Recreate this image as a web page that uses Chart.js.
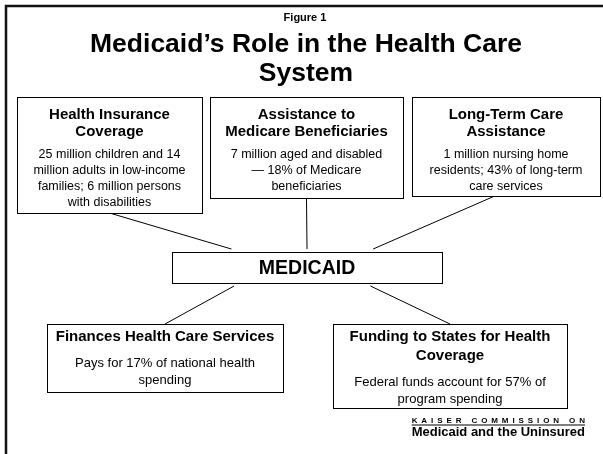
<!DOCTYPE html>
<html><head><meta charset="utf-8">
<script src="https://cdn.jsdelivr.net/npm/chart.js@4.4.0/dist/chart.umd.min.js"></script>
<style>html,body{margin:0;padding:0;background:#fff;}#wrap{position:relative;width:603px;height:454px;}canvas{display:block;}</style>
</head><body><div id="wrap"><canvas id="c" width="603" height="454"></canvas></div>
<script>
// ---------- content ----------
const figureLabel = 'Figure 1';
const titleLines = ['Medicaid’s Role in the Health Care', 'System'];
const boxHeadings = [
  ['Health Insurance', 'Coverage'],
  ['Assistance to', 'Medicare Beneficiaries'],
  ['Long-Term Care', 'Assistance'],
  ['MEDICAID'],
  ['Finances Health Care Services'],
  ['Funding to States for Health', 'Coverage']
];
const boxBodies = [
  ['25 million children and 14', 'million adults in low-income', 'families; 6 million persons', 'with disabilities'],
  ['7 million aged and disabled', '— 18% of Medicare', 'beneficiaries'],
  ['1 million nursing home', 'residents; 43% of long-term', 'care services'],
  [],
  ['Pays for 17% of national health', 'spending'],
  ['Federal funds account for 57% of', 'program spending']
];
const links = [[0, 3], [1, 3], [2, 3], [3, 4], [3, 5]];
const footerLines = ['KAISER COMMISSION ON', 'Medicaid and the Uninsured'];

// ---------- layout (page units) ----------
const FONT = '"Liberation Sans", Arial, Helvetica, sans-serif';
const boxRects = [
  [17, 97, 202, 213],
  [210, 97, 403, 198],
  [412, 97, 600, 196],
  [172, 252, 442, 283],
  [47, 324, 283, 392],
  [333, 324, 567, 408]
];
const boxText = [
  {pad: 18, headLH: 17, gap: 23, bodyLH: 15.7, hs: 15, bs: 12.5},
  {pad: 18, headLH: 17, gap: 23, bodyLH: 15.7, hs: 15, bs: 12.5},
  {pad: 18, headLH: 17, gap: 23, bodyLH: 15.7, hs: 15, bs: 12.5},
  {center: true, hs: 19.5},
  {pad: 13, headLH: 18, gap: 26, bodyLH: 17, hs: 15, bs: 13},
  {pad: 13, headLH: 19, gap: 26, bodyLH: 17, hs: 15, bs: 13}
];
// fraction along source box edge, fraction along target box edge
const linkAnchors = [[0.5, 0.22], [0.5, 0.5], [0.44, 0.745], [0.23, 0.5], [0.735, 0.5]];
const linkGap = 3;

// ---------- build connector datasets ----------
const datasets = links.map((lk, i) => {
  const [a, b] = lk;
  const ra = boxRects[a], rb = boxRects[b];
  const [fa, fb] = linkAnchors[i];
  let p1, p2;
  if (a === 3) { // from MEDICAID down
    p1 = {x: ra[0] + fa * (ra[2] - ra[0]), y: ra[3] + linkGap};
    p2 = {x: rb[0] + fb * (rb[2] - rb[0]), y: rb[1]};
  } else {
    p1 = {x: ra[0] + fa * (ra[2] - ra[0]), y: ra[3]};
    p2 = {x: rb[0] + fb * (rb[2] - rb[0]), y: rb[1] - linkGap};
  }
  return {type: 'line', data: [p1, p2], borderColor: '#000', borderWidth: 1, pointRadius: 0, fill: false, tension: 0};
});

const diagramPlugin = {
  id: 'diagram',
  beforeDatasetsDraw(chart) {
    const ctx = chart.ctx;
    const X = v => chart.scales.x.getPixelForValue(v);
    const Y = v => chart.scales.y.getPixelForValue(v);
    ctx.save();
    // outer frame (top and left edges visible)
    ctx.strokeStyle = '#111';
    ctx.lineWidth = 2.5;
    ctx.beginPath();
    ctx.moveTo(X(6), Y(454));
    ctx.lineTo(X(6), Y(6));
    ctx.lineTo(X(603), Y(6));
    ctx.stroke();
    // titles
    ctx.fillStyle = '#000';
    ctx.textAlign = 'center';
    ctx.textBaseline = 'middle';
    ctx.font = 'bold 11px ' + FONT;
    ctx.fillText(figureLabel, X(305), Y(18));
    ctx.font = 'bold 26.5px ' + FONT;
    titleLines.forEach((t, i) => ctx.fillText(t, X(306), Y(45 + i * 29)));
    ctx.restore();
  },
  afterDatasetsDraw(chart) {
    const ctx = chart.ctx;
    const X = v => chart.scales.x.getPixelForValue(v);
    const Y = v => chart.scales.y.getPixelForValue(v);
    ctx.save();
    boxRects.forEach((r, i) => {
      const x0 = Math.round(X(r[0])) + 0.5, y0 = Math.round(Y(r[1])) + 0.5;
      const x1 = Math.round(X(r[2])) + 0.5, y1 = Math.round(Y(r[3])) + 0.5;
      ctx.fillStyle = '#fff';
      ctx.fillRect(x0, y0, x1 - x0, y1 - y0);
      ctx.strokeStyle = '#000';
      ctx.lineWidth = 1;
      ctx.strokeRect(x0, y0, x1 - x0, y1 - y0);
      const cx = (X(r[0]) + X(r[2])) / 2;
      const s = boxText[i];
      ctx.fillStyle = '#000';
      ctx.textAlign = 'center';
      ctx.textBaseline = 'middle';
      if (s.center) {
        ctx.font = 'bold ' + s.hs + 'px ' + FONT;
        ctx.fillText(boxHeadings[i][0], cx, (Y(r[1]) + Y(r[3])) / 2 + 1);
        return;
      }
      let y = Y(r[1]) + s.pad;
      ctx.font = 'bold ' + s.hs + 'px ' + FONT;
      boxHeadings[i].forEach((t, j) => { ctx.fillText(t, cx, y); if (j < boxHeadings[i].length - 1) y += s.headLH; });
      y += s.gap;
      ctx.font = s.bs + 'px ' + FONT;
      boxBodies[i].forEach(t => { ctx.fillText(t, cx, y); y += s.bodyLH; });
    });
    // footer
    const right = X(585);
    ctx.font = 'bold 13px ' + FONT;
    ctx.textAlign = 'right';
    ctx.textBaseline = 'middle';
    const w2 = ctx.measureText(footerLines[1]).width;
    ctx.fillText(footerLines[1], right, Y(432));
    const left = right - w2;
    ctx.font = 'bold 8px ' + FONT;
    ctx.textAlign = 'left';
    const chars = footerLines[0].split('');
    const cw = chars.map(c => ctx.measureText(c).width);
    const tot = cw.reduce((p, q) => p + q, 0);
    const sp = (w2 - tot) / (chars.length - 1);
    let xx = left;
    const yk = Y(420.5);
    chars.forEach((c, k) => { ctx.fillText(c, xx, yk); xx += cw[k] + sp; });
    ctx.fillRect(left, yk + 4, w2, 1);
    ctx.restore();
  }
};

new Chart(document.getElementById('c'), {
  type: 'scatter',
  data: {datasets},
  options: {
    responsive: false,
    animation: false,
    devicePixelRatio: 1,
    layout: {padding: 0},
    plugins: {legend: {display: false}, tooltip: {enabled: false}, title: {display: false}},
    scales: {
      x: {type: 'linear', min: 0, max: 603, display: false},
      y: {type: 'linear', min: 0, max: 454, reverse: true, display: false}
    }
  },
  plugins: [diagramPlugin]
});
</script>
</body></html>
